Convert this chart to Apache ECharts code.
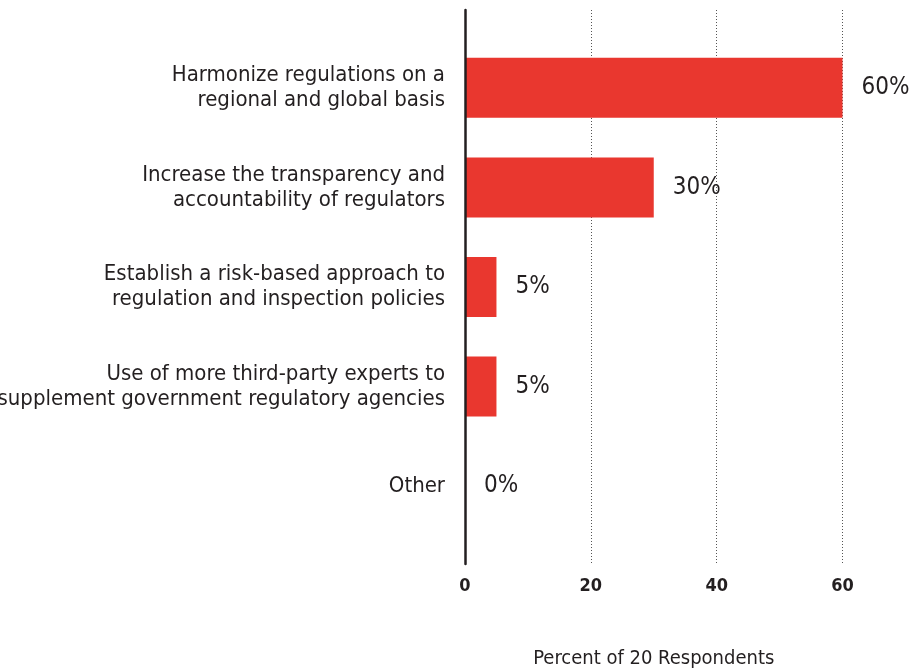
<!DOCTYPE html>
<html>
<head>
<meta charset="utf-8">
<script src="https://cdn.jsdelivr.net/npm/echarts@6/dist/echarts.min.js"></script>
<style>
  html, body { margin: 0; padding: 0; background: #ffffff; }
  #chart { width: 916px; height: 672px; }
</style>
</head>
<body>
<div id="chart"></div>
<script>
// Survey answers and their share of respondents
const categories = [
  'Harmonize regulations on a\nregional and global basis',
  'Increase the transparency and\naccountability of regulators',
  'Establish a risk-based approach to\nregulation and inspection policies',
  'Use of more third-party experts to\nsupplement government regulatory agencies',
  'Other'
];
const percentValues = [60, 30, 5, 5, 0];
const xTicks = [0, 20, 40, 60];
const axisTitle = 'Percent of 20 Respondents';

const FONT = '"Liberation Sans Narrow", "DejaVu Sans Condensed", "Liberation Sans", sans-serif';
const INK = '#231f20';
const BAR_RED = '#e9372f';

const chart = echarts.init(document.getElementById('chart'), null, { renderer: 'canvas' });

const plotLeft = 465;
const plotWidth = 377.5;

chart.setOption({
  backgroundColor: '#ffffff',
  animation: false,
  textStyle: { fontFamily: FONT, color: INK },
  grid: [
    // bars and category labels
    { left: plotLeft, width: plotWidth, top: 38, height: 498, containLabel: false, outerBoundsMode: 'none' },
    // frame: value axis, dotted gridlines and the zero line
    { left: plotLeft, width: plotWidth, top: 10, height: 554, containLabel: false, outerBoundsMode: 'none' }
  ],
  xAxis: [
    {
      gridIndex: 0, type: 'value', min: xTicks[0], max: xTicks[xTicks.length - 1],
      show: false
    },
    {
      gridIndex: 1, type: 'value', min: xTicks[0], max: xTicks[xTicks.length - 1],
      interval: xTicks[1] - xTicks[0],
      axisLine: { show: false },
      axisTick: { show: false },
      splitLine: { show: true, lineStyle: { color: '#555', width: 1, type: [1, 2] } },
      axisLabel: { fontFamily: FONT, fontSize: 18, fontWeight: 'bold', color: INK, margin: 13 },
      name: axisTitle,
      nameLocation: 'middle',
      nameGap: 85,
      nameTextStyle: { fontFamily: FONT, fontSize: 20, color: INK }
    }
  ],
  yAxis: [
    {
      gridIndex: 0, type: 'category', data: categories, inverse: true,
      axisLine: { show: false },
      axisTick: { show: false },
      splitLine: { show: false },
      axisLabel: {
        fontFamily: FONT, fontSize: 22, lineHeight: 25, color: INK,
        align: 'right', margin: 20
      }
    },
    {
      gridIndex: 1, type: 'value', min: 0, max: 1,
      axisLine: { show: true, onZero: false, lineStyle: { color: INK, width: 2.5 } },
      axisTick: { show: false },
      axisLabel: { show: false },
      splitLine: { show: false },
      z: 5
    }
  ],
  series: [
    {
      type: 'bar',
      xAxisIndex: 0,
      yAxisIndex: 0,
      data: percentValues,
      barWidth: 60,
      itemStyle: { color: BAR_RED },
      label: {
        show: true,
        position: 'right',
        distance: 19,
        formatter: p => p.value + '%',
        fontFamily: FONT,
        fontSize: 24,
        color: INK
      }
    }
  ]
});
</script>
</body>
</html>
